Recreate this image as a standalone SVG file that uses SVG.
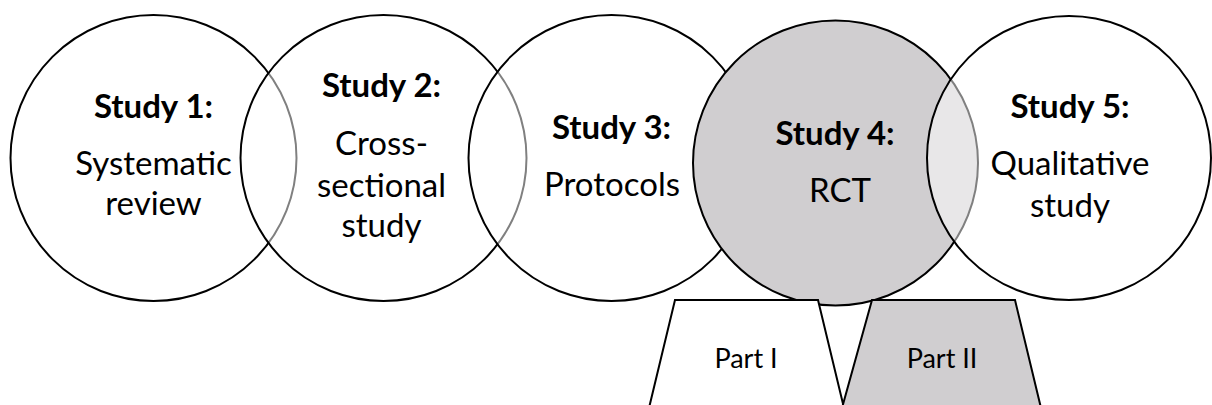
<svg xmlns="http://www.w3.org/2000/svg" width="1212" height="405" viewBox="0 0 1212 405">
<style>
.c{stroke:#000;stroke-width:2}
.w{fill:#fff;fill-opacity:0.5}
.g{fill:#d0ced0}
.t{font-family:Lato,"Open Sans",sans-serif;font-size:33px;fill:#000;text-anchor:middle}
.b{font-weight:bold}
.p{font-family:Lato,"Open Sans",sans-serif;font-size:27px;fill:#000;text-anchor:middle}
.tr{stroke:#000;stroke-width:2;stroke-linejoin:miter}
</style>
<rect width="1212" height="405" fill="#fff"/>
<g id="study1">
<circle class="c" cx="153.5" cy="158" r="143" fill="#fff"/>
</g>
<g id="study2">
<circle class="c w" cx="383.5" cy="158" r="143"/>
</g>
<g id="study3">
<circle class="c w" cx="611.5" cy="158" r="143"/>
</g>
<g id="study4">
<circle class="c g" cx="835.5" cy="163" r="142.5"/>
</g>
<g id="study5">
<circle class="c w" cx="1069" cy="158" r="142"/>
</g>
<g id="labels">
<text class="t b" x="153.5" y="118">Study 1:</text>
<text class="t" x="153.5" y="175">Systematic</text>
<text class="t" x="153.5" y="215">review</text>
<text class="t b" x="381.5" y="97">Study 2:</text>
<text class="t" x="381.5" y="155">Cross-</text>
<text class="t" x="381.5" y="197">sectional</text>
<text class="t" x="381.5" y="237">study</text>
<text class="t b" x="611.5" y="139">Study 3:</text>
<text class="t" x="612" y="196">Protocols</text>
<text class="t b" x="835" y="145">Study 4:</text>
<text class="t" x="840" y="202">RCT</text>
<text class="t b" x="1070" y="118">Study 5:</text>
<text class="t" x="1070" y="175">Qualitative</text>
<text class="t" x="1070" y="217">study</text>
</g>
<g id="part1">
<polygon class="tr" fill="#fff" points="675,300 818,300 844,408 649,408"/>
<text class="p" x="746" y="368">Part I</text>
</g>
<g id="part2">
<polygon class="tr" fill="#d0ced0" points="872,300 1015,300 1041,408 842,408"/>
<text class="p" x="942" y="368">Part II</text>
</g>
<g id="connectors"></g>
</svg>
